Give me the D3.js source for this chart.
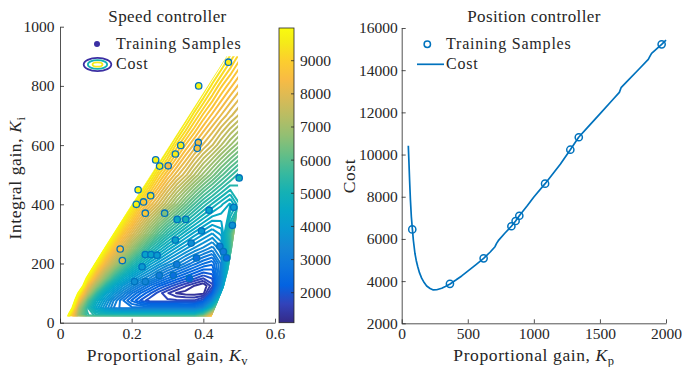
<!DOCTYPE html>
<html><head><meta charset="utf-8">
<script src="https://cdn.jsdelivr.net/npm/d3@7"></script>
<style>
body{margin:0;background:#fff}
text{font-family:"Liberation Serif","Times New Roman",serif;fill:#262626}
</style>
</head><body>
<svg id="c" width="682" height="367"></svg>
<script>
// ---------------- data ----------------
// Speed controller cost surface, grid of Kv columns x Ki rows
const kvGrid = [0,0.025,0.05,0.075,0.1,0.125,0.15,0.175,0.2,0.225,0.25,0.275,0.3,0.325,0.35,0.375,0.4,0.425,0.45,0.475,0.5,0.525];
const kiGrid = [0,25,50,75,100,125,150,200,250,300,400,500,600,700,800,900,1000];
const costGrid = [
 [12000,8900,8900,8900,8900,8900,8900,8900,8900,8900,8900,8900,8900,8900,8900,9060,10140,12500,15500,18500,21500,24500],
 [16200,9600,6800,5530,5230,5200,5180,5170,5160,5160,5150,5150,5140,5140,5140,5130,5930,8130,11130,14130,17130,20130],
 [13800,11650,7200,5430,4400,3700,3130,2840,2830,2810,2800,2790,2780,2780,2770,2770,3310,5060,7800,10790,13790,16790],
 [12700,12700,8650,6100,4750,4000,3300,2800,2390,2030,1750,1740,1730,1720,1710,1700,1980,3280,5760,8760,11760,14750],
 [12200,12200,10050,7470,5600,4500,3830,3300,2800,2410,2100,1790,1530,1320,1240,1230,1260,2110,4330,7330,10320,13320],
 [12000,12000,12000,8530,6850,5400,4480,3870,3430,2990,2600,2280,2020,1770,1540,1330,1160,1620,3420,6190,9190,12180],
 [12000,12000,12000,9850,7950,6600,5400,4610,4050,3630,3300,2920,2600,2330,2100,1900,1690,1890,3190,5630,8490,11480],
 [12000,12000,12000,12000,9850,8300,7270,6260,5400,4790,4300,3940,3630,3380,3100,2830,2600,2460,3190,5290,8140,10980],
 [12000,12000,12000,12000,12000,9850,8530,7700,6850,6070,5400,4900,4480,4150,3870,3630,3430,3220,3630,5340,8000,10830],
 [12000,12000,12000,12000,12000,11570,9850,8700,7950,7270,6600,5950,5400,4980,4610,4300,4050,3830,4080,5490,7980,10780],
 [12000,12000,12000,12000,12000,12000,12000,11080,9850,8920,8300,7790,7270,6760,6260,5800,5400,5080,4790,4530,5100,8110],
 [12000,12000,12000,12000,12000,12000,12000,12000,12000,10800,9850,9080,8530,8080,7700,7270,6850,6460,6070,5720,5400,5940],
 [12000,12000,12000,12000,12000,12000,12000,12000,12000,12000,11570,10630,9850,9200,8700,8300,7950,7640,7270,6920,6600,6260],
 [12000,12000,12000,12000,12000,12000,12000,12000,12000,12000,12000,12000,11280,10510,9850,9290,8830,8470,8150,7860,7600,7270],
 [12000,12000,12000,12000,12000,12000,12000,12000,12000,12000,12000,12000,12000,11840,11080,10420,9850,9350,8920,8590,8300,8030],
 [12000,12000,12000,12000,12000,12000,12000,12000,12000,12000,12000,12000,12000,12000,12000,11570,10930,10360,9850,9400,9000,8700],
 [12000,12000,12000,12000,12000,12000,12000,12000,12000,12000,12000,12000,12000,12000,12000,12000,12000,11370,10810,10300,9850,9400]
];
const contourLevels = d3.range(1150, 10000, 180);
// region where the surface is drawn
const maskKv = [0.009,0.465,0.497,0.497,0.49,0.48,0.47,0.457,0.44,0.423,0.015];
const maskKi = [37,900,900,400,330,250,180,120,70,22,22];

// Speed controller training samples
const speedSampleKv = [0.470,0.387,0.386,0.383,0.337,0.322,0.267,0.278,0.302,0.218,0.213,0.233,0.253,0.238,0.292,0.327,0.351,0.416,0.500,0.485,0.481,0.395,0.322,0.366,0.446,0.168,0.174,0.238,0.254,0.271,0.229,0.208,0.238,0.277,0.326,0.316,0.361,0.381,0.456,0.465];
const speedSampleKi = [880,800,609,589,599,570,550,529,530,449,400,408,429,370,370,349,349,380,489,390,329,310,279,269,258,249,210,230,230,228,189,139,139,160,197,160,150,219,240,219];
const speedSampleCost = [9500,9800,8300,8600,9600,9600,9800,9700,8400,9900,9800,8800,9300,8800,6500,4600,5000,4300,5000,4000,3700,3900,4300,3600,3100,8500,8000,4300,4300,4000,4000,3600,3300,3000,3000,2600,2200,2700,3000,2600];

// Position controller
const posCurveKp = [50,55,60,66,73,81,88,100,110,121,135,151,170,189,215,239,265,303,330,366,410,454,500,560,620,670,706,718,731,780,830,862,890,950,1000,1085,1150,1200,1276,1339,1400,1500,1600,1647,1660,1700,1800,1866,1880,1891,1967,2000];
const posCurveCost = [10420,9600,8750,7850,7050,6450,5950,5320,4980,4690,4390,4140,3930,3770,3650,3580,3590,3660,3740,3865,4050,4245,4470,4770,5082,5380,5630,5790,5917,6270,6600,6850,7100,7570,7990,8620,9140,9540,10230,10820,11240,11930,12620,12950,13170,13430,14080,14515,14680,14800,15226,15430];
const posSampleKp = [80,365,620,830,862,890,1085,1276,1340,1967];
const posSampleCost = [6450,3870,5080,6600,6850,7100,8620,10230,10820,15225];

// ticks
const speedXTicks = [0,0.2,0.4,0.6];
const speedYTicks = [0,200,400,600,800,1000];
const colorbarTicks = [2000,3000,4000,5000,6000,7000,8000,9000];
const posXTicks = [0,500,1000,1500,2000];
const posYTicks = [2000,4000,6000,8000,10000,12000,14000,16000];
const colorRange = [1095, 9987];
// parula colormap (entries 0,4,...,60,63 of the 64-entry map)
const parulaPos = [0,4,8,12,16,20,24,28,32,36,40,44,48,52,56,60,63];
const parula = ["#352a87","#3243ba","#0363e1","#0d75dc","#1485d4","#0998d1","#06a7c6","#15b1b4","#38b99e","#65be86","#92bf73","#b7bd64","#d9ba56","#f8bb44","#fcce2e","#f5eb18","#f9fb0e"];

// ---------------- drawing ----------------
const svg = d3.select("#c");
const axisCol = "#262626";
const fs = 15.5;

const color = d3.scaleLinear()
  .domain(parulaPos.map(p=>colorRange[0]+p/63*(colorRange[1]-colorRange[0])))
  .range(parula).clamp(true);

function styleAxis(g){
  g.selectAll("path.domain").attr("stroke",axisCol).attr("stroke-width",0.8);
  g.selectAll(".tick line").attr("stroke",axisCol).attr("stroke-width",0.8);
  g.selectAll(".tick text").attr("font-size",fs).attr("font-family","Liberation Serif").attr("fill",axisCol);
}

// ===== left: speed controller =====
const xS = d3.scaleLinear().domain([0,0.6]).range([60,275]);
const yS = d3.scaleLinear().domain([0,1000]).range([322.7,26.7]);

const defs = svg.append("defs");
defs.append("clipPath").attr("id","mask").append("polygon")
  .attr("points", maskKv.map((v,i)=>xS(v)+","+yS(maskKi[i])).join(" "));

const colIdx = d3.scaleLinear().domain(d3.range(kvGrid.length)).range(kvGrid);
const rowIdx = d3.scaleLinear().domain(d3.range(kiGrid.length)).range(kiGrid);
const contours = d3.contours().size([kvGrid.length, kiGrid.length]).thresholds(contourLevels)(costGrid.flat());
const ring = d3.line().x(p=>xS(colIdx(p[0]-0.5))).y(p=>yS(rowIdx(p[1]-0.5)));

svg.append("g").attr("clip-path","url(#mask)")
  .selectAll("path").data(contours).join("path")
  .attr("d", c => c.coordinates.map(poly=>poly.map(r=>ring(r)).join("")).join(""))
  .attr("fill","none")
  .attr("stroke", c=>color(c.value))
  .attr("stroke-width",2)
  .attr("stroke-linejoin","round");

// samples
svg.append("g").selectAll("circle").data(speedSampleKv).join("circle")
  .attr("cx",(d)=>xS(d)).attr("cy",(d,i)=>yS(speedSampleKi[i])).attr("r",3.2)
  .attr("fill",(d,i)=>color(speedSampleCost[i])).attr("stroke","#0072BD").attr("stroke-width",1.3);

// axes
const gx1 = svg.append("g").attr("transform","translate(0,322.7)")
  .call(d3.axisBottom(xS).tickValues(speedXTicks).tickFormat(d=>d===0?"0":d3.format(".1f")(d)).tickSizeInner(-4).tickSizeOuter(0).tickPadding(5));
styleAxis(gx1);
const gy1 = svg.append("g").attr("transform","translate(60,0)")
  .call(d3.axisLeft(yS).tickValues(speedYTicks).tickFormat(d3.format("d")).tickSizeInner(-4).tickSizeOuter(0).tickPadding(5.5));
styleAxis(gy1);

// colorbar
const cbY = d3.scaleLinear().domain(colorRange).range([322.7,28]);
const grad = defs.append("linearGradient").attr("id","cb").attr("x1",0).attr("y1",1).attr("x2",0).attr("y2",0);
parula.forEach((c,i)=>grad.append("stop").attr("offset",parulaPos[i]/63).attr("stop-color",c));
svg.append("rect").attr("x",279).attr("y",28).attr("width",15).attr("height",294.7)
  .attr("fill","url(#cb)").attr("stroke",axisCol).attr("stroke-width",0.8);
const cbg = svg.append("g");
colorbarTicks.forEach(t=>{
  cbg.append("line").attr("x1",291).attr("x2",294).attr("y1",cbY(t)).attr("y2",cbY(t)).attr("stroke",axisCol).attr("stroke-width",0.8);
  cbg.append("text").attr("x",300).attr("y",cbY(t)).attr("dy","0.35em").attr("font-size",fs).text(t);
});

// titles & labels
const titleStyle = t => t.attr("font-size",17).attr("letter-spacing",0.4).attr("text-anchor","middle");
svg.append("text").attr("x",167.5).attr("y",22).call(titleStyle).text("Speed controller");
function gainLabel(x,y,main,sub,rot){
  const t = svg.append("text").attr("font-size",17.5).attr("letter-spacing",0.6).attr("text-anchor","middle")
    .attr("transform",`translate(${x},${y})`+(rot?" rotate(-90)":""));
  t.append("tspan").text(main);
  t.append("tspan").attr("font-style","italic").text("K");
  t.append("tspan").attr("font-size",12.5).attr("dy",3.5).text(sub);
  return t;
}
gainLabel(167.5,361,"Proportional gain, ","v",false);
gainLabel(21,178,"Integral gain, ","i",true);

// legend left
const legStyle = t => t.attr("font-size",16).attr("letter-spacing",0.8);
svg.append("circle").attr("cx",97).attr("cy",44).attr("r",3).attr("fill","#3b2fa3");
svg.append("text").attr("x",116).attr("y",49).call(legStyle).text("Training Samples");
svg.append("ellipse").attr("cx",97.5).attr("cy",64.5).attr("rx",13.8).attr("ry",6.6).attr("fill","none").attr("stroke","#3b2fa3").attr("stroke-width",1.8);
svg.append("ellipse").attr("cx",97.5).attr("cy",64.5).attr("rx",9.6).attr("ry",4.4).attr("fill","none").attr("stroke","#15b1b4").attr("stroke-width",1.8);
svg.append("ellipse").attr("cx",97.5).attr("cy",64.5).attr("rx",5).attr("ry",2.2).attr("fill","none").attr("stroke","#f5eb18").attr("stroke-width",1.8);
svg.append("text").attr("x",116).attr("y",69).call(legStyle).text("Cost");

// ===== right: position controller =====
const xP = d3.scaleLinear().domain([0,2000]).range([401.7,666]);
const yP = d3.scaleLinear().domain([2000,16000]).range([323.3,28]);

svg.append("path").datum(posCurveKp)
  .attr("d", d3.line().x(d=>xP(d)).y((d,i)=>yP(posCurveCost[i])))
  .attr("fill","none").attr("stroke","#0072BD").attr("stroke-width",1.7).attr("stroke-linejoin","round");
svg.append("g").selectAll("circle").data(posSampleKp).join("circle")
  .attr("cx",d=>xP(d)).attr("cy",(d,i)=>yP(posSampleCost[i])).attr("r",3.6)
  .attr("fill","none").attr("stroke","#0072BD").attr("stroke-width",1.5);

const gx2 = svg.append("g").attr("transform","translate(0,323.3)")
  .call(d3.axisBottom(xP).tickValues(posXTicks).tickFormat(d3.format("d")).tickSizeInner(-4).tickSizeOuter(0).tickPadding(5));
styleAxis(gx2);
const gy2 = svg.append("g").attr("transform","translate(401.7,0)")
  .call(d3.axisLeft(yP).tickValues(posYTicks).tickFormat(d3.format("d")).tickSizeInner(-4).tickSizeOuter(0).tickPadding(4));
styleAxis(gy2);

svg.append("text").attr("x",534).attr("y",22).call(titleStyle).text("Position controller");
gainLabel(534,361,"Proportional gain, ","p",false);
svg.append("text").attr("font-size",17.5).attr("letter-spacing",0.6).attr("text-anchor","middle").attr("transform","translate(355,176) rotate(-90)").text("Cost");

// legend right
svg.append("circle").attr("cx",427.3).attr("cy",44.3).attr("r",3.2).attr("fill","none").attr("stroke","#0072BD").attr("stroke-width",1.5);
svg.append("text").attr("x",446).attr("y",49).call(legStyle).text("Training Samples");
svg.append("line").attr("x1",417).attr("x2",444).attr("y1",64.3).attr("y2",64.3).attr("stroke","#0072BD").attr("stroke-width",1.7);
svg.append("text").attr("x",446).attr("y",69).call(legStyle).text("Cost");
</script>
</body></html>
